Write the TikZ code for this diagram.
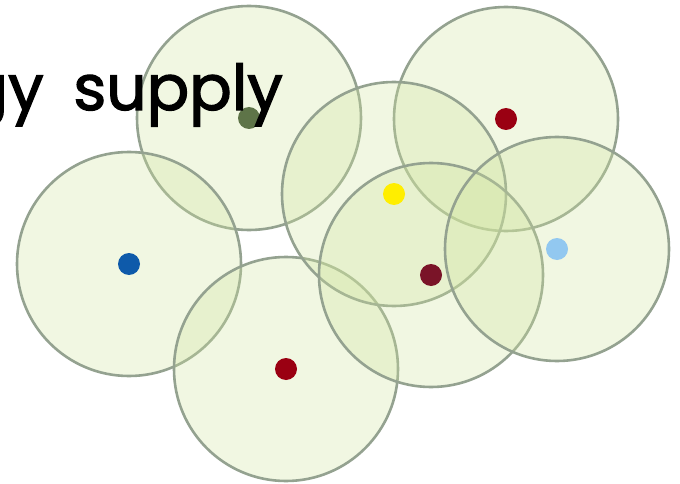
\documentclass[tikz,border=0pt]{standalone}
\usepackage{fontspec}
\setmainfont{Poppins}
\definecolor{cellfill}{HTML}{D2E6A0}
\definecolor{cellline}{HTML}{94A290}
\definecolor{dotolive}{HTML}{5E7448}
\definecolor{dotblue}{HTML}{0E5AAA}
\definecolor{dotred}{HTML}{9A0012}
\definecolor{dotyellow}{HTML}{FFEE00}
\definecolor{dotmaroon}{HTML}{7A1428}
\definecolor{dotsky}{HTML}{92C8F0}
\newcommand{\heavytext}[1]{\special{pdf:literal direct 2 Tr 1.3 w}#1\special{pdf:literal direct 0 Tr 1 w}}
\begin{document}
\begin{tikzpicture}[x=1pt,y=-1pt,
  cell/.style={circle, draw=cellline, line width=2.6pt, fill=cellfill, fill opacity=0.3, draw opacity=1, minimum size=224pt, inner sep=0pt},
  sensor/.style={circle, minimum size=22pt, inner sep=0pt}]
\useasboundingbox (0,0) rectangle (680,484);
\clip (0,0) rectangle (680,484);
\fill[white] (0,0) rectangle (680,484);
% coverage circles
\node[cell] (cA) at (249,118) {};
\node[cell] (cB) at (129,264) {};
\node[cell] (cC) at (286,369) {};
\node[cell] (cD) at (506,119) {};
\node[cell] (cE) at (394,194) {};
\node[cell] (cF) at (431,275) {};
\node[cell] (cG) at (557,249) {};
% sensors
\node[sensor, fill=dotolive] (sA) at (cA) {};
\node[sensor, fill=dotblue] (sB) at (cB) {};
\node[sensor, fill=dotred] (sC) at (cC) {};
\node[sensor, fill=dotred] (sD) at (cD) {};
\node[sensor, fill=dotyellow] (sE) at (cE) {};
\node[sensor, fill=dotmaroon] (sF) at (cF) {};
\node[sensor, fill=dotsky] (sG) at (cG) {};
% title
\node[anchor=base east, inner sep=0pt, font=\fontsize{63pt}{66pt}\selectfont] (title) at (283,110) {\heavytext{gy\hspace{13pt} supply}};
\end{tikzpicture}
\end{document}
